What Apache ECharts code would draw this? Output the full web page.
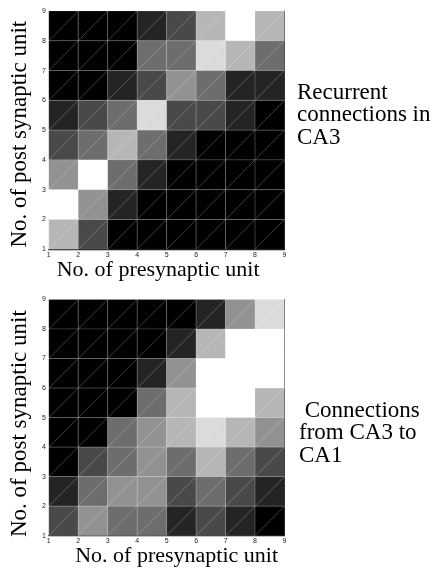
<!DOCTYPE html>
<html>
<head>
<meta charset="utf-8">
<script src="https://cdn.jsdelivr.net/npm/echarts@6/dist/echarts.min.js"></script>
<style>
html,body{margin:0;padding:0;background:#fff;}
#chart{width:434px;height:572px;}
</style>
</head>
<body>
<div id="chart"></div>
<script>
// Tick labels (unit numbers on both axes)
var tickLabels = [1, 2, 3, 4, 5, 6, 7, 8, 9];
// Presynaptic unit columns (cell left edges)
var preUnits = [1, 2, 3, 4, 5, 6, 7, 8];
// Postsynaptic unit rows, listed from top (8) to bottom (1)
var postUnits = [8, 7, 6, 5, 4, 3, 2, 1];

// Connection strengths, grey level 0 (black) .. 7 (white); rows match postUnits
var ca3Recurrent = [
  [0, 0, 0, 1, 2, 5, 7, 5],
  [0, 0, 0, 3, 3, 6, 5, 3],
  [0, 0, 1, 2, 4, 3, 1, 1],
  [1, 2, 3, 6, 2, 2, 1, 0],
  [2, 3, 5, 3, 1, 0, 0, 0],
  [4, 7, 3, 1, 0, 0, 0, 0],
  [7, 4, 1, 0, 0, 0, 0, 0],
  [5, 2, 0, 0, 0, 0, 0, 0]
];
var ca3ToCa1 = [
  [0, 0, 0, 0, 0, 1, 4, 6],
  [0, 0, 0, 0, 1, 5, 7, 7],
  [0, 0, 0, 1, 4, 7, 7, 7],
  [0, 0, 0, 3, 5, 7, 7, 5],
  [0, 0, 3, 4, 5, 6, 5, 4],
  [0, 2, 3, 4, 3, 5, 3, 2],
  [1, 3, 4, 4, 2, 3, 2, 1],
  [2, 4, 3, 3, 1, 2, 1, 0]
];

var yTitle = 'No. of post synaptic unit';
var xTitle = 'No. of presynaptic unit';
var caption1 = 'Recurrent\nconnections in\nCA3';
var caption2 = ' Connections\nfrom CA3 to\nCA1';

function toCells(matrix) {
  var out = [];
  for (var r = 0; r < postUnits.length; r++) {
    for (var c = 0; c < preUnits.length; c++) {
      out.push([preUnits[c], postUnits[r], matrix[r][c]]);
    }
  }
  return out;
}

function renderCell(params, api) {
  var x = api.value(0), y = api.value(1);
  var p0 = api.coord([x, y]);
  var p1 = api.coord([x + 1, y + 1]);
  var color = api.visual('color');
  return {
    type: 'group',
    children: [
      {
        type: 'rect',
        shape: { x: p0[0], y: p1[1], width: p1[0] - p0[0], height: p0[1] - p1[1] },
        style: { fill: color, stroke: 'rgba(255,255,255,0.14)', lineWidth: 1 }
      },
      {
        type: 'line',
        shape: { x1: p0[0], y1: p0[1], x2: p1[0], y2: p1[1] },
        style: { stroke: 'rgba(255,255,255,0.3)', lineWidth: 0.8 }
      }
    ]
  };
}

var serif = 'Liberation Serif';
var sans = 'Liberation Sans';

function xAxisDef(gridIndex, padRight, padLeft) {
  return {
    type: 'value', gridIndex: gridIndex, min: 1, max: 9, interval: 1,
    splitLine: { show: false },
    axisTick: { show: false },
    axisLine: { show: true, lineStyle: { color: '#000', width: 1.3 } },
    axisLabel: {
      fontSize: 7, fontFamily: sans, color: '#222', margin: 2,
      formatter: function (v) { return tickLabels.indexOf(v) >= 0 ? String(v) : ''; }
    },
    name: xTitle, nameLocation: 'middle', nameGap: 8,
    nameTextStyle: { fontFamily: serif, fontSize: 22, color: '#000', verticalAlign: 'top',
      padding: [0, padRight, 0, padLeft] }
  };
}
function yAxisDef(gridIndex, padRight) {
  return {
    type: 'value', gridIndex: gridIndex, min: 1, max: 9, interval: 1,
    splitLine: { show: false },
    axisTick: { show: false },
    axisLine: { show: false },
    axisLabel: {
      fontSize: 7, fontFamily: sans, color: '#222', margin: 3,
      formatter: function (v) { return tickLabels.indexOf(v) >= 0 ? String(v) : ''; }
    },
    name: yTitle, nameLocation: 'middle', nameGap: 6, nameRotate: 90,
    nameTextStyle: { fontFamily: serif, fontSize: 23, color: '#000',
      padding: [0, padRight, 0, 0] }
  };
}
function rightAxisDef(gridIndex) {
  return {
    type: 'value', gridIndex: gridIndex, min: 1, max: 9, interval: 1, position: 'right',
    splitLine: { show: false }, axisTick: { show: false }, axisLabel: { show: false },
    axisLine: { show: true, lineStyle: { color: '#000', width: 1 } }
  };
}

var chart = echarts.init(document.getElementById('chart'), null, { renderer: 'canvas' });
chart.setOption({
  backgroundColor: '#fff',
  animation: false,
  grid: [
    { left: 44, top: 11, width: 240.5, height: 238.3 },
    { left: 44, top: 299.5, width: 240.5, height: 236.2 }
  ],
  xAxis: [xAxisDef(0, 17, 0), xAxisDef(1, 0, 20)],
  yAxis: [yAxisDef(0, 8), yAxisDef(1, 12), rightAxisDef(0), rightAxisDef(1)],
  visualMap: {
    show: false, type: 'continuous', min: 0, max: 7, dimension: 2,
    seriesIndex: [0, 1], inRange: { color: ['#000000', '#ffffff'] }
  },
  series: [
    { type: 'custom', name: 'Recurrent connections in CA3', xAxisIndex: 0, yAxisIndex: 0,
      renderItem: renderCell, data: toCells(ca3Recurrent) },
    { type: 'custom', name: 'Connections from CA3 to CA1', xAxisIndex: 1, yAxisIndex: 1,
      renderItem: renderCell, data: toCells(ca3ToCa1) }
  ],
  graphic: [
    { type: 'text', left: 297, top: 81,
      style: { text: caption1, fontFamily: serif, fontSize: 23, lineHeight: 22.5, fill: '#000' } },
    { type: 'text', left: 299, top: 399,
      style: { text: caption2, fontFamily: serif, fontSize: 23, lineHeight: 22.5, fill: '#000' } }
  ]
});
</script>
</body>
</html>
